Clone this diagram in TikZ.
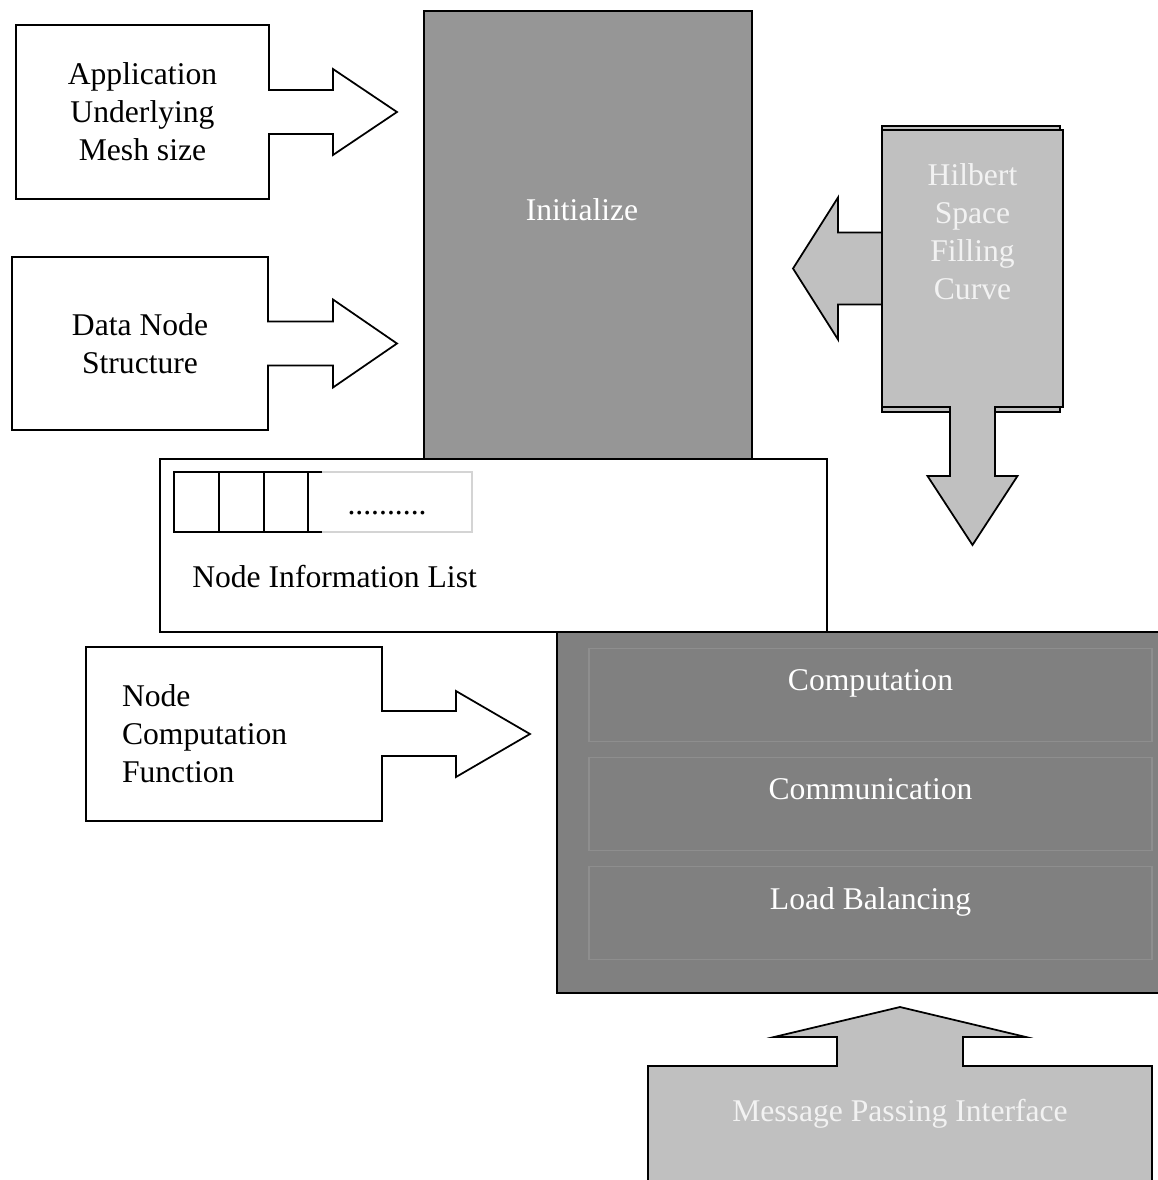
\documentclass[tikz,border=0pt]{standalone}
\usepackage{fontspec}
\setmainfont{Liberation Serif}
\usepackage{xcolor}
\usepackage{tikz}
\usetikzlibrary{positioning,calc}

\definecolor{initgray}{HTML}{969696}
\definecolor{hilgray}{HTML}{C0C0C0}
\definecolor{compgray}{HTML}{808080}
\definecolor{rimgray}{HTML}{8E8E8E}
\definecolor{listgray}{HTML}{D4D4D4}
\definecolor{paletxt}{HTML}{F2F2F2}

\begin{document}
\begin{tikzpicture}[
    x=0.02cm, y=-0.02cm,
    blk/.style={
        rectangle, inner sep=0pt, outer sep=0pt,
    },
    outl/.style={draw=black, line width=1pt, line join=miter},
    txt/.style={font=\fontsize{18}{21.6}\selectfont, align=center},
    wtxt/.style={txt, text=white},
    ptxt/.style={txt, text=paletxt},
]

\path[use as bounding box] (0,0) rectangle (1158,1180);
\clip (0,0) rectangle (1158,1180);

% Inputs
\node[blk, txt, minimum width=5.06cm, minimum height=3.48cm] (app) at (142.5,112) {Application\\Underlying\\Mesh size};
\draw[outl] (app.north west) -- (app.north east) -- ($(app.east)+(0,-22)$) -- ++(64,0) -- ++(0,-21) -- ++(64,43) -- ++(-64,43) -- ++(0,-21) -- ++(-64,0) -- (app.south east) -- (app.south west) -- cycle;

\node[blk, txt, minimum width=5.12cm, minimum height=3.46cm] (data) at (140,343.5) {Data Node\\Structure};
\draw[outl] (data.north west) -- (data.north east) -- ($(data.east)+(0,-22)$) -- ++(65,0) -- ++(0,-22) -- ++(64,44) -- ++(-64,44) -- ++(0,-22) -- ++(-65,0) -- (data.south east) -- (data.south west) -- cycle;

% Initialize
\node[blk, outl, fill=initgray, minimum width=6.56cm, minimum height=8.96cm] (init) at (588,235) {};
\node[wtxt, below=3.63cm of init.north, xshift=-0.12cm] (inittxt) {Initialize};

% Hilbert curve
\node[blk, minimum width=3.62cm, minimum height=5.54cm] (hil) at (972.5,268.5) {};
\filldraw[outl, fill=hilgray] ($(hil.north west)+(0,-4)$) rectangle ($(hil.south east)+(-3,5)$);
\filldraw[outl, fill=hilgray] (hil.north west) -- (hil.north east) -- (hil.south east) -- ($(hil.south)+(22.5,0)$) -- ++(0,69) -- ++(22.5,0) -- ++(-45,69) -- ++(-45,-69) -- ++(22.5,0) -- ++(0,-69) -- (hil.south west) -- cycle;
\filldraw[outl, fill=hilgray] ($(hil.west)+(0,-36)$) -- ++(-44,0) -- ++(0,-35) -- ++(-45,71) -- ++(45,71) -- ++(0,-35) -- ++(44,0) -- cycle;
\node[ptxt, below=0.55cm of hil.north] (hiltxt) {Hilbert\\Space\\Filling\\Curve};

% Node list
\node[blk, outl, fill=white, minimum width=13.34cm, minimum height=3.46cm] (nil) at (493.5,545.5) {};
\node[blk, draw=listgray, line width=0.6pt, minimum width=5.96cm, minimum height=1.2cm, anchor=north west] (cells) at ($(nil.north west)+(14,13)$) {};
\draw[outl] ($(cells.north west)+(148,0)$) -- (cells.north west) -- (cells.south west) -- ++(148,0);
\foreach \dx in {45,90,134}
    \draw[outl] ($(cells.north west)+(\dx,0)$) -- ++(0,60);
\node[txt, anchor=base] (dots) at ($(cells.center)+(64,12)$) {..........};
\node[txt, anchor=west] (niltxt) at ($(nil.south west)+(26,-55)$) {Node Information List};

% Node computation
\node[blk, txt, align=left, inner xsep=0.72cm, text width=4.48cm, minimum height=3.48cm] (ncf) at (234,734) {Node\\Computation\\Function};
\draw[outl] (ncf.north west) -- (ncf.north east) -- ($(ncf.east)+(0,-23)$) -- ++(74,0) -- ++(0,-20) -- ++(74,43) -- ++(-74,43) -- ++(0,-21) -- ++(-74,0) -- (ncf.south east) -- (ncf.south west) -- cycle;

% Main loop
\node[blk, outl, fill=compgray, minimum width=12.1cm, minimum height=7.22cm] (comp) at (859.5,812.5) {};
\node[blk, draw=rimgray, line width=0.8pt, minimum width=11.26cm, minimum height=1.86cm] (compA) at (870.5,695) {};
\node[blk, draw=rimgray, line width=0.8pt, minimum width=11.26cm, minimum height=1.86cm, below=0.32cm of compA] (compB) {};
\node[blk, draw=rimgray, line width=0.8pt, minimum width=11.26cm, minimum height=1.86cm, below=0.32cm of compB] (compC) {};
\node[wtxt, below=0.3cm of compA.north] (compAtxt) {Computation};
\node[wtxt, below=0.3cm of compB.north] (compBtxt) {Communication};
\node[wtxt, below=0.3cm of compC.north] (compCtxt) {Load Balancing};

% MPI
\node[blk, minimum width=10.08cm, minimum height=2.48cm] (mpi) at (900,1128) {};
\filldraw[outl, fill=hilgray] (mpi.south west) -- (mpi.north west) -- ($(mpi.north)+(-63,0)$) -- ++(0,-29) -- ++(-63,0) -- ++(126,-30) -- ++(126,30) -- ++(-63,0) -- ++(0,29) -- (mpi.north east) -- (mpi.south east) -- cycle;
\node[ptxt, below=0.54cm of mpi.north] (mpitxt) {Message Passing Interface};

\end{tikzpicture}
\end{document}
